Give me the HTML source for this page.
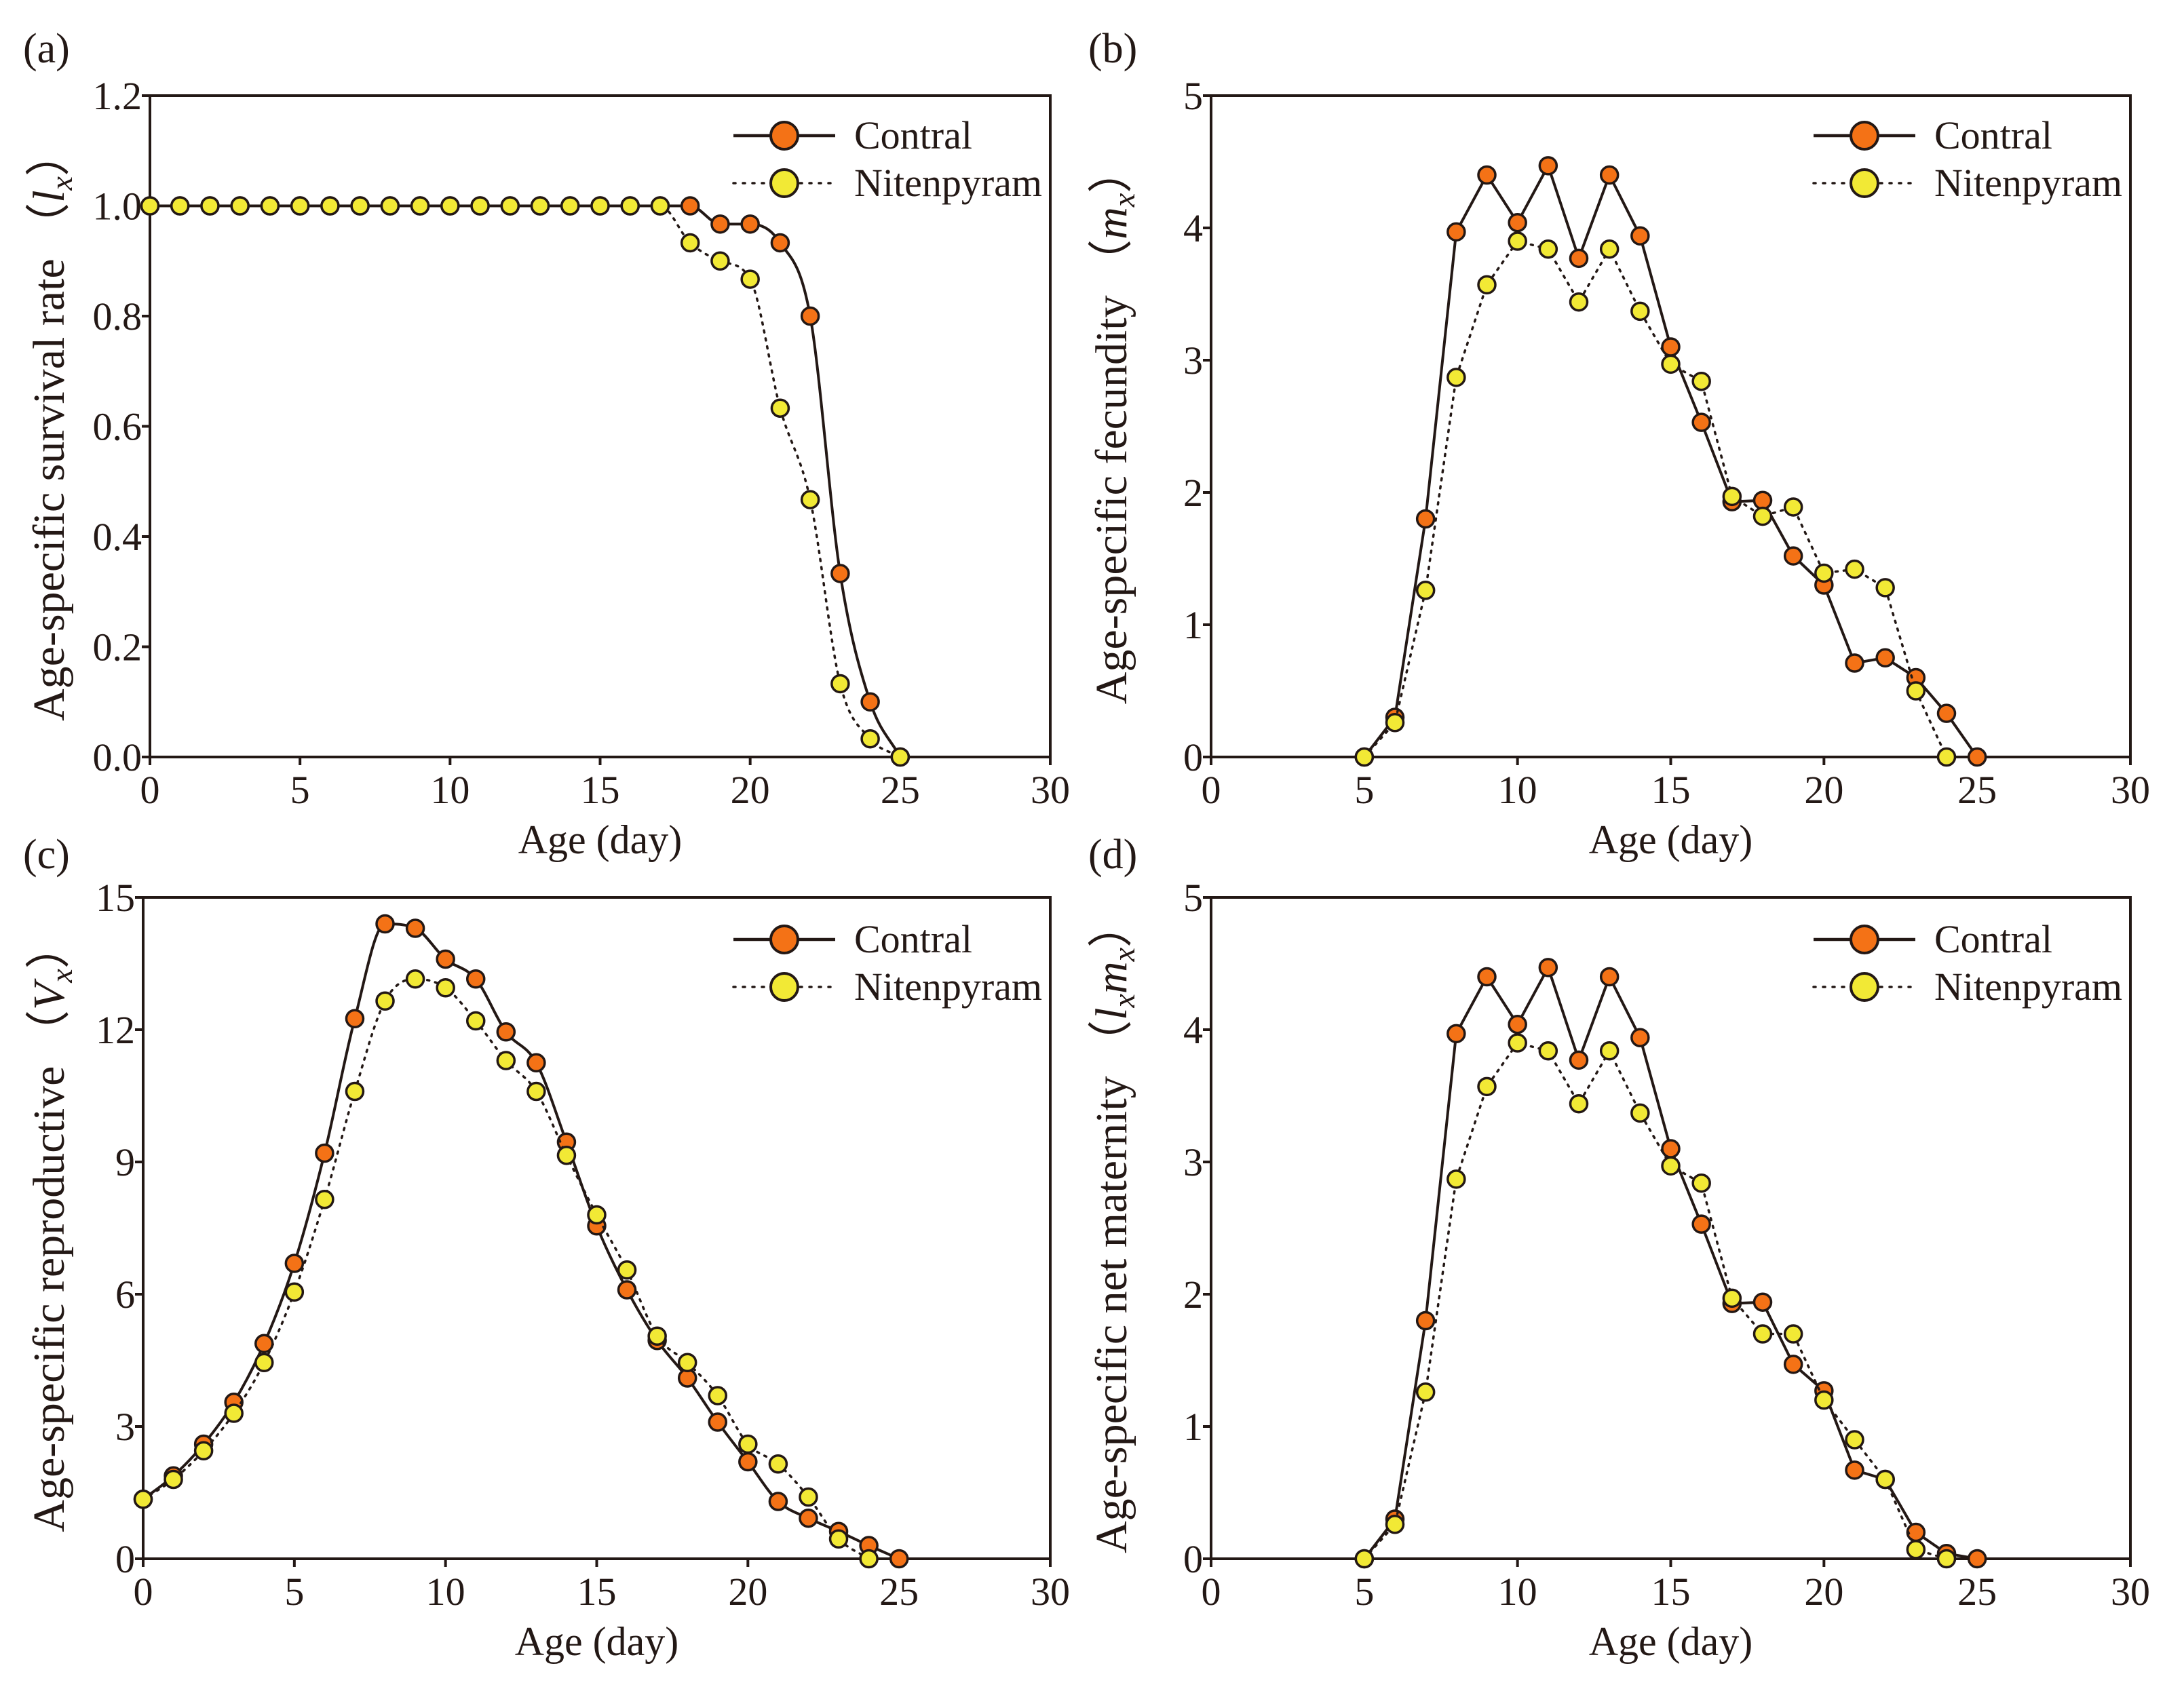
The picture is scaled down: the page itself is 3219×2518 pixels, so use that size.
<!DOCTYPE html>
<html><head><meta charset="utf-8"><style>
html,body{margin:0;padding:0;background:#fff;}
svg{display:block;font-family:"Liberation Serif",serif;}
</style></head><body>
<svg id="fig" width="3219" height="2518" viewBox="0 0 3219 2518" xmlns="http://www.w3.org/2000/svg"></svg>
<script>
const agesA = [0,1,2,3,4,5,6,7,8,9,10,11,12,13,14,15,16,17,18,19,20,21,22,23,24,25];
const ctrlA = [1,1,1,1,1,1,1,1,1,1,1,1,1,1,1,1,1,1,1,0.967,0.967,0.933,0.8,0.333,0.1,0];
const nitA  = [1,1,1,1,1,1,1,1,1,1,1,1,1,1,1,1,1,1,0.933,0.9,0.867,0.633,0.467,0.133,0.033,0];
const agesB = [5,6,7,8,9,10,11,12,13,14,15,16,17,18,19,20,21,22,23,24,25];
const ctrlB = [0,0.3,1.8,3.97,4.4,4.04,4.47,3.77,4.4,3.94,3.1,2.53,1.93,1.94,1.52,1.3,0.71,0.75,0.6,0.33,0];
const agesBn = [5,6,7,8,9,10,11,12,13,14,15,16,17,18,19,20,21,22,23,24];
const nitB  = [0,0.26,1.26,2.87,3.57,3.9,3.84,3.44,3.84,3.37,2.97,2.84,1.97,1.82,1.89,1.39,1.42,1.28,0.5,0];
const agesC = [0,1,2,3,4,5,6,7,8,9,10,11,12,13,14,15,16,17,18,19,20,21,22,23,24,25];
const ctrlC = [1.35,1.88,2.6,3.55,4.88,6.7,9.2,12.25,14.4,14.3,13.6,13.15,11.95,11.25,9.45,7.55,6.1,4.95,4.1,3.1,2.2,1.3,0.92,0.62,0.3,0];
const agesCn = [0,1,2,3,4,5,6,7,8,9,10,11,12,13,14,15,16,17,18,19,20,21,22,23,24];
const nitC  = [1.35,1.8,2.45,3.3,4.45,6.05,8.15,10.6,12.65,13.15,12.95,12.2,11.3,10.6,9.15,7.8,6.55,5.05,4.45,3.7,2.6,2.15,1.4,0.45,0];
const agesD = [5,6,7,8,9,10,11,12,13,14,15,16,17,18,19,20,21,22,23,24,25];
const ctrlD = [0,0.3,1.8,3.97,4.4,4.04,4.47,3.77,4.4,3.94,3.1,2.53,1.93,1.94,1.47,1.27,0.67,0.6,0.2,0.04,0];
const agesDn = [5,6,7,8,9,10,11,12,13,14,15,16,17,18,19,20,21,22,23,24];
const nitD  = [0,0.26,1.26,2.87,3.57,3.9,3.84,3.44,3.84,3.37,2.97,2.84,1.97,1.7,1.7,1.2,0.9,0.6,0.07,0];
const xTicks = [0,5,10,15,20,25,30];
const yTicksA = [0,0.2,0.4,0.6,0.8,1.0,1.2];
const yLabelsA = ["0.0","0.2","0.4","0.6","0.8","1.0","1.2"];
const yTicksB = [0,1,2,3,4,5];
const yTicksC = [0,3,6,9,12,15];

const NS="http://www.w3.org/2000/svg";
const svg=document.getElementById('fig');
const INK="#231815", ORANGE="#f47216", YELLOW="#f2e935";
function mk(tag,attrs,parent){const e=document.createElementNS(NS,tag);for(const k in attrs)e.setAttribute(k,attrs[k]);(parent||svg).appendChild(e);return e;}

function monoPath(px,py){
  const n=px.length; if(n<2) return '';
  const d=[],m=new Array(n);
  for(let i=0;i<n-1;i++) d.push((py[i+1]-py[i])/(px[i+1]-px[i]));
  m[0]=d[0]; m[n-1]=d[n-2];
  for(let i=1;i<n-1;i++){ if(d[i-1]*d[i]<=0) m[i]=0; else m[i]=(d[i-1]+d[i])/2; }
  for(let i=0;i<n-1;i++){ if(d[i]===0){m[i]=0;m[i+1]=0;continue;} const a=m[i]/d[i],b=m[i+1]/d[i],s=a*a+b*b; if(s>9){const t=3/Math.sqrt(s);m[i]=t*a*d[i];m[i+1]=t*b*d[i];} }
  let p='M'+px[0]+','+py[0];
  for(let i=0;i<n-1;i++){const h=(px[i+1]-px[i])/3; p+=' C'+(px[i]+h)+','+(py[i]+m[i]*h)+' '+(px[i+1]-h)+','+(py[i+1]-m[i+1]*h)+' '+px[i+1]+','+py[i+1];}
  return p;
}

function panel(o){
  const g=mk('g',{});
  
  
  const X=v=>o.L+(o.R-o.L)*v/30;
  const Y=v=>o.B-(o.B-o.T)*v/o.ymax;
  const lab=mk('text',{x:o.labX,y:o.labY,'font-size':62,fill:INK},g);
  lab.textContent='('+o.id+')';
  
  
  const fr=mk('rect',{x:o.L,y:o.T,width:o.R-o.L,height:o.B-o.T,fill:'none',stroke:INK,'stroke-width':4},g);
  
  
  xTicks.forEach(t=>{
    const tk=mk('line',{x1:X(t),x2:X(t),y1:o.B,y2:o.B+12,stroke:INK,'stroke-width':4},g);
    
    
    const tl=mk('text',{x:X(t),y:o.B+68,'font-size':58,'text-anchor':'middle',fill:INK},g);
    tl.textContent=t;
    
    
  });
  o.yt.forEach((t,i)=>{
    const tk=mk('line',{x1:o.L-12,x2:o.L,y1:Y(t),y2:Y(t),stroke:INK,'stroke-width':4},g);
    
    
    const tl=mk('text',{x:o.L-12,y:Y(t)+20,'font-size':58,'text-anchor':'end',fill:INK},g);
    tl.textContent=o.yl?o.yl[i]:t;
    
    
  });
  const xt=mk('text',{x:(o.L+o.R)/2,y:o.B+142,'font-size':60,'text-anchor':'middle',fill:INK},g);
  xt.textContent='Age (day)';
  
  
  const yx=o.ytX, yy=(o.T+o.B)/2;
  const yt=mk('text',{x:yx,y:yy,'font-size':66,'text-anchor':'middle',fill:INK,transform:'rotate(-90 '+yx+' '+yy+')'},g);
  yt.innerHTML=o.ytitle;
  
  
  function series(ages,vals,color,dotted,smooth,name){
    const px=ages.map(X), py=vals.map(Y);
    const d=smooth?monoPath(px,py):'M'+px.map((x,i)=>x+','+py[i]).join(' L');
    const ln=mk('path',{d:d,fill:'none',stroke:INK,'stroke-width':dotted?3.5:4,'stroke-dasharray':dotted?'3 9':'none','stroke-linecap':'round'},g);
    
    
    px.forEach((x,i)=>{
      const c=mk('circle',{cx:x,cy:py[i],r:12.5,fill:color,stroke:INK,'stroke-width':3.5},g);
      
      
    });
  }
  series(o.ca,o.cv,ORANGE,false,o.smooth,'contral');
  series(o.na,o.nv,YELLOW,true,o.smooth,'nitenpyram');
  const lx=o.R-467, r1=o.T+o.lg, r2=r1+70;
  const lg=mk('g',{},g);
  
  
  mk('line',{x1:lx,x2:lx+150,y1:r1,y2:r1,stroke:INK,'stroke-width':4.5},lg);
  mk('circle',{cx:lx+75,cy:r1,r:20,fill:ORANGE,stroke:INK,'stroke-width':4},lg);
  const t1=mk('text',{x:lx+178,y:r1+19,'font-size':58,fill:INK},lg);
  t1.textContent='Contral';
  
  
  mk('line',{x1:lx,x2:lx+150,y1:r2,y2:r2,stroke:INK,'stroke-width':3.5,'stroke-dasharray':'3 11','stroke-linecap':'round'},lg);
  mk('circle',{cx:lx+75,cy:r2,r:20,fill:YELLOW,stroke:INK,'stroke-width':4},lg);
  const t2=mk('text',{x:lx+178,y:r2+19,'font-size':58,fill:INK},lg);
  t2.textContent='Nitenpyram';
  
  
}
const sub=(s)=>'<tspan font-style="italic" font-size="46" baseline-shift="-12">'+s+'</tspan>';
panel({id:'a',L:221,R:1548,T:141,B:1116,ymax:1.2,yt:yTicksA,yl:yLabelsA,ca:agesA,cv:ctrlA,na:agesA,nv:nitA,smooth:true,labX:34,labY:92,ytX:94,lg:59,
  ytitle:'Age-specific survival rate （<tspan font-style="italic">l</tspan>'+sub('x')+'）'});
panel({id:'b',L:1785,R:3140,T:141,B:1116,ymax:5,yt:yTicksB,ca:agesB,cv:ctrlB,na:agesBn,nv:nitB,smooth:false,labX:1604,labY:92,ytX:1660,lg:59,
  ytitle:'Age-specific fecundity （<tspan font-style="italic">m</tspan>'+sub('x')+'）'});
panel({id:'c',L:211,R:1548,T:1323,B:2298,ymax:15,yt:yTicksC,ca:agesC,cv:ctrlC,na:agesCn,nv:nitC,smooth:true,labX:34,labY:1280,ytX:94,lg:62,
  ytitle:'Age-specific reproductive （<tspan font-style="italic">V</tspan>'+sub('x')+'）'});
panel({id:'d',L:1785,R:3140,T:1323,B:2298,ymax:5,yt:yTicksB,ca:agesD,cv:ctrlD,na:agesDn,nv:nitD,smooth:false,labX:1604,labY:1280,ytX:1660,lg:62,
  ytitle:'Age-specific net maternity （<tspan font-style="italic">l</tspan>'+sub('x')+'<tspan font-style="italic">m</tspan>'+sub('x')+'）'});
</script>
</body></html>
